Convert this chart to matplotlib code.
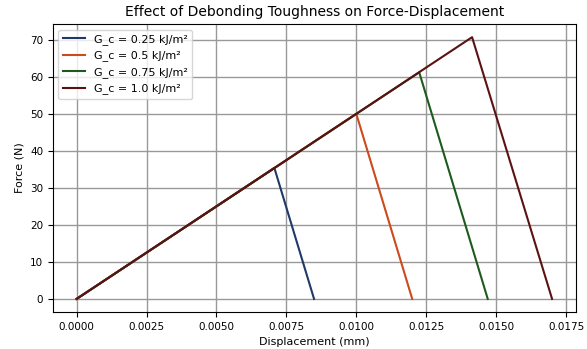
import numpy as np
import matplotlib
matplotlib.use("Agg")
import matplotlib.pyplot as plt

# fracture energies (kJ/m^2) and the force-displacement points
labels = ['G_c = 0.25 kJ/m²', 'G_c = 0.5 kJ/m²', 'G_c = 0.75 kJ/m²', 'G_c = 1.0 kJ/m²']
colors = ['#1f3a68', '#cc4a1c', '#1e5a1e', '#5a1212']
disp = [
    [0.0, 0.00707, 0.00849],
    [0.0, 0.0100, 0.0120],
    [0.0, 0.01225, 0.0147],
    [0.0, 0.01414, 0.0170],
]
force = [
    [0.0, 35.4, 0.0],
    [0.0, 50.0, 0.0],
    [0.0, 61.2, 0.0],
    [0.0, 70.7, 0.0],
]

fig = plt.figure(figsize=(5.87, 3.49), dpi=100)
ax = fig.add_axes([0.09, 0.106, 0.891, 0.825])

for i in range(len(labels)):
    ax.plot(disp[i], force[i], color=colors[i], lw=1.5, label=labels[i])

ax.set_xticks(np.arange(0, 0.0176, 0.0025))
ax.set_xticklabels(['%.4f' % t for t in np.arange(0, 0.0176, 0.0025)])
ax.tick_params(labelsize=7.5)
ax.grid(True, color='#999999', lw=1.0)
ax.set_xlabel('Displacement (mm)', fontsize=8)
ax.set_ylabel('Force (N)', fontsize=8)
ax.set_title('Effect of Debonding Toughness on Force-Displacement', fontsize=10)
ax.legend(loc='upper left', fontsize=8, handlelength=2)

fig.savefig('out.png', dpi=100)
